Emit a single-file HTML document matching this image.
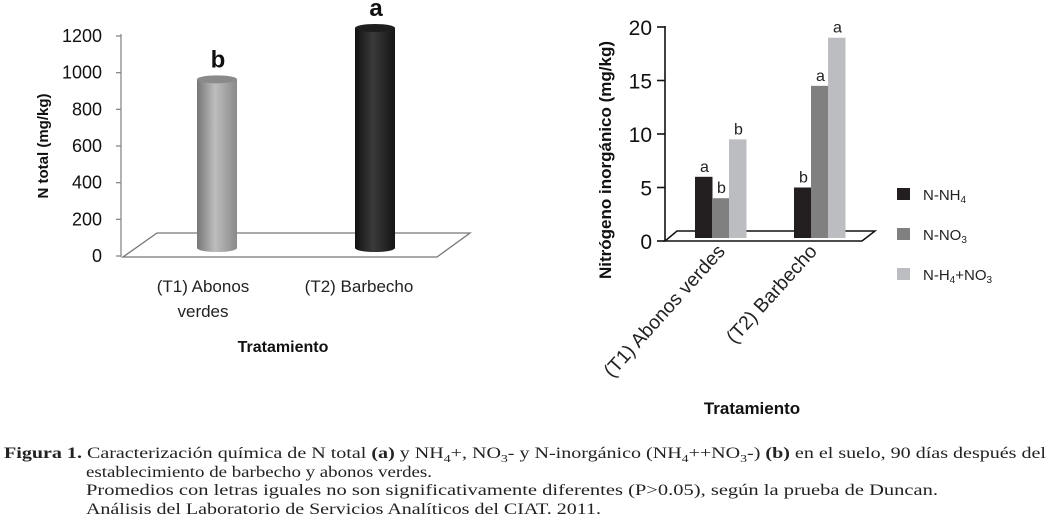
<!DOCTYPE html>
<html><head><meta charset="utf-8"><style>
html,body{margin:0;padding:0;background:#fff;width:1051px;height:526px;overflow:hidden}
svg{display:block}
</style></head><body>
<svg id="fig" width="1051" height="526" viewBox="0 0 1051 526">
<defs>
<linearGradient id="gGrey" x1="0" x2="1"><stop offset="0" stop-color="#777"/><stop offset="0.45" stop-color="#bdbdbd"/><stop offset="1" stop-color="#8a8a8a"/></linearGradient>
<linearGradient id="gBlack" x1="0" x2="1"><stop offset="0" stop-color="#111"/><stop offset="0.45" stop-color="#3a3a3a"/><stop offset="1" stop-color="#151515"/></linearGradient>
</defs>
<g id="left"></g>
<g id="right"></g>
<g id="caption" font-family="'Liberation Serif', serif" font-size="16" fill="#222">
<text x="4" y="458" textLength="1042" lengthAdjust="spacingAndGlyphs"><tspan font-weight="bold">Figura 1.</tspan> Caracterización química de N total <tspan font-weight="bold">(a)</tspan> y NH<tspan font-size="11" dy="4">4</tspan><tspan dy="-4">+, NO</tspan><tspan font-size="11" dy="4">3</tspan><tspan dy="-4">- y N-inorgánico (NH</tspan><tspan font-size="11" dy="4">4</tspan><tspan dy="-4">++NO</tspan><tspan font-size="11" dy="4">3</tspan><tspan dy="-4">-) </tspan><tspan font-weight="bold">(b)</tspan> en el suelo, 90 días después del</text>
<text x="86" y="477" textLength="346" lengthAdjust="spacingAndGlyphs">establecimiento de barbecho y abonos verdes.</text>
<text x="86" y="495" textLength="852" lengthAdjust="spacingAndGlyphs">Promedios con letras iguales no son significativamente diferentes (P&gt;0.05), según la prueba de Duncan.</text>
<text x="86" y="514" textLength="515" lengthAdjust="spacingAndGlyphs">Análisis del Laboratorio de Servicios Analíticos del CIAT. 2011.</text>
</g>
</svg>
<script>
const NS='http://www.w3.org/2000/svg';
// Left chart data
const leftCats=['(T1) Abonos verdes','(T2) Barbecho'];
const leftVals=[920,1200];
const leftLetters=['b','a'];
const leftTicks=[0,200,400,600,800,1000,1200];
// Right chart data
const rightCats=['(T1) Abonos verdes','(T2) Barbecho'];
const seriesNames=['N-NH4','N-NO3','N-H4+NO3'];
const nh4=[6,5];
const no3=[4,14.5];
const ntot=[9.5,19];
const nh4Letters=['a','b'];
const no3Letters=['b','a'];
const ntotLetters=['b','a'];
const rightTicks=[0,5,10,15,20];

function mk(parent,tag,attrs,text){const e=document.createElementNS(NS,tag);for(const k in attrs)e.setAttribute(k,attrs[k]);if(text!==undefined)e.textContent=text;parent.appendChild(e);return e;}

// ---- Left chart ----
const L=document.getElementById('left');
const ly=v=>256-v*(220/1200);
const lyBar=v=>248-v*(220/1200);
mk(L,'line',{x1:121,y1:34,x2:121,y2:257,stroke:'#888','stroke-width':1.3});
leftTicks.forEach(t=>{
  const y=ly(t);
  const tk=mk(L,'line',{x1:116,y1:y,x2:121,y2:y,stroke:'#888','stroke-width':1.3});
  
  
  const lb=mk(L,'text',{x:102,y:y+6,'text-anchor':'end','font-family':'Liberation Sans, sans-serif','font-size':18,fill:'#111'},String(t));
  
  
});
const floor=mk(L,'polygon',{points:'123,257 437,257 470,233 157,233',fill:'none',stroke:'#777','stroke-width':1.3});


const lx=[217,375];
const fills=['url(#gGrey)','url(#gBlack)'];
const topFill=['#8a8a8a','#1e1e1e'];
leftVals.forEach((v,i)=>{
  const cx=lx[i],w=40,top=lyBar(v),bot=248;
  const g=mk(L,'g',{});
  
  
  mk(g,'rect',{x:cx-w/2,y:top,width:w,height:bot-top,fill:fills[i]});
  mk(g,'ellipse',{cx:cx,cy:bot,rx:w/2,ry:4,fill:fills[i]});
  mk(g,'ellipse',{cx:cx,cy:top,rx:w/2,ry:4,fill:topFill[i]});
  const t=mk(L,'text',{x:cx+1,y:top-12,'text-anchor':'middle','font-family':'Liberation Sans, sans-serif','font-size':24,'font-weight':'bold',fill:'#111'},leftLetters[i]);
  
  
});
const c1=mk(L,'text',{'text-anchor':'middle','font-family':'Liberation Sans, sans-serif','font-size':17,fill:'#222'});


mk(c1,'tspan',{x:203,y:292},'(T1) Abonos');mk(c1,'tspan',{x:203,y:317},'verdes');
const c2=mk(L,'text',{x:359,y:292,'text-anchor':'middle','font-family':'Liberation Sans, sans-serif','font-size':17,fill:'#222'},leftCats[1]);


const xt=mk(L,'text',{x:283,y:352,'text-anchor':'middle','font-family':'Liberation Sans, sans-serif','font-size':16,'font-weight':'bold',fill:'#111'},'Tratamiento');


const yt=mk(L,'text',{x:0,y:0,transform:'translate(48,146) rotate(-90)','text-anchor':'middle','font-family':'Liberation Sans, sans-serif','font-size':15,'font-weight':'bold',fill:'#111'},'N total (mg/kg)');



// ---- Right chart ----
const R=document.getElementById('right');
const ry=v=>241-v*(214/20);
mk(R,'line',{x1:665,y1:26,x2:665,y2:241,stroke:'#111','stroke-width':1.6});
rightTicks.forEach(t=>{
  const y=ry(t);
  const tk=mk(R,'line',{x1:657,y1:y,x2:665,y2:y,stroke:'#111','stroke-width':1.6});
  
  
  const lb=mk(R,'text',{x:652,y:y+8,'text-anchor':'end','font-family':'Liberation Sans, sans-serif','font-size':21,fill:'#111'},String(t));
  
  
});
const rf=mk(R,'polygon',{points:'665,241 862,241 875,231 677,231',fill:'none',stroke:'#111','stroke-width':1.5});


const groupX=[695,794];
const bw=17;
const colors=['#231f20','#808080','#bcbdc0'];
const series=[nh4,no3,ntot];
const letters=[nh4Letters,no3Letters,ntotLetters];
series.forEach((s,si)=>{
  s.forEach((v,gi)=>{
    const x=groupX[gi]+si*bw, top=ry(v);
    const r=mk(R,'rect',{x:x,y:top,width:bw+0.5,height:238-top,fill:colors[si]});
    
    
    const t=mk(R,'text',{x:x+bw/2+1,y:top-5,'text-anchor':'middle','font-family':'Liberation Sans, sans-serif','font-size':16,fill:'#222'},letters[si][gi]);
    
    
  });
});
const rc=[[726,252],[818,252]];
rightCats.forEach((c,i)=>{
  const t=mk(R,'text',{x:0,y:0,transform:`translate(${rc[i][0]},${rc[i][1]}) rotate(-48)`,'text-anchor':'end','font-family':'Liberation Sans, sans-serif','font-size':19.5,fill:'#222'},c);
  
  
});
const rxt=mk(R,'text',{x:752,y:414,'text-anchor':'middle','font-family':'Liberation Sans, sans-serif','font-size':17,'font-weight':'bold',fill:'#111'},'Tratamiento');


const ryt=mk(R,'text',{x:0,y:0,transform:'translate(611,160) rotate(-90)','text-anchor':'middle','font-family':'Liberation Sans, sans-serif','font-size':17,'font-weight':'bold',fill:'#111'},'Nitrógeno inorgánico (mg/kg)');


// legend
const legSub=[['N-NH','4'],['N-NO','3'],['N-H','4']];
colors.forEach((c,i)=>{
  const y=188+i*40;
  const sq=mk(R,'rect',{x:897,y:y,width:13,height:12,fill:c});
  
  
  const t=mk(R,'text',{x:923,y:y+12,'font-family':'Liberation Sans, sans-serif','font-size':15,fill:'#222'});
  
  
  mk(t,'tspan',{},legSub[i][0]);
  mk(t,'tspan',{'font-size':10,dy:3},legSub[i][1]);
  if(i===2){mk(t,'tspan',{dy:-3},'+NO');mk(t,'tspan',{'font-size':10,dy:3},'3');}
});
</script>
</body></html>
